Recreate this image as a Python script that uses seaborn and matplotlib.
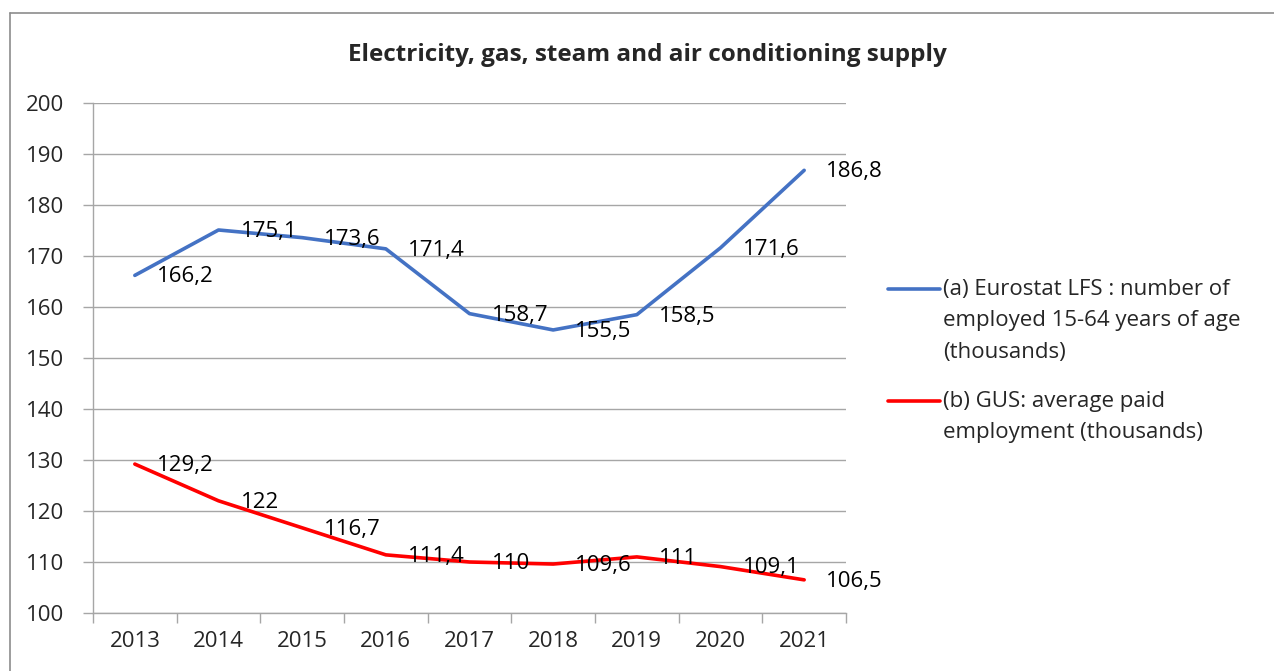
import matplotlib
matplotlib.use("Agg")
import matplotlib.pyplot as plt
from matplotlib.lines import Line2D
import seaborn as sns
import pandas as pd

years = ["2013", "2014", "2015", "2016", "2017", "2018", "2019", "2020", "2021"]
eurostat = [166.2, 175.1, 173.6, 171.4, 158.7, 155.5, 158.5, 171.6, 186.8]
gus = [129.2, 122, 116.7, 111.4, 110, 109.6, 111, 109.1, 106.5]
series_names = [
    "(a) Eurostat LFS : number of\nemployed 15-64 years of age\n(thousands)",
    "(b) GUS: average paid\nemployment (thousands)",
]
colors = ["#4472C4", "#FF0000"]
title = "Electricity, gas, steam and air conditioning supply"

df = pd.concat([
    pd.DataFrame({"year": years, "value": eurostat, "series": series_names[0]}),
    pd.DataFrame({"year": years, "value": gus, "series": series_names[1]}),
])

sns.set_theme(style="white")
plt.rcParams["font.family"] = ["Open Sans", "DejaVu Sans"]
FS = 16

fig = plt.figure(figsize=(12.74, 6.71), dpi=100)
ax = fig.add_axes([93 / 1274, 1 - 613 / 671, (846 - 93) / 1274, (613 - 103) / 671])

sns.lineplot(data=df, x="year", y="value", hue="series", sort=False,
             palette=dict(zip(series_names, colors)), linewidth=2.6,
             legend=False, ax=ax)

# data labels (comma as decimal separator)
for vals in (eurostat, gus):
    for i, v in enumerate(vals):
        ax.annotate(f"{v:g}".replace(".", ","), (i, v), xytext=(16, -1),
                    textcoords="offset points", va="center", ha="left",
                    fontsize=FS, color="black")

grid_c = "#A6A6A6"
ax.set_xlim(-0.5, len(years) - 0.5)
ax.set_ylim(100, 200)
ax.set_yticks(range(100, 201, 10))
ax.set_xticks(range(len(years)))
ax.set_xticklabels(years)
ax.set_xticks([i - 0.5 for i in range(len(years) + 1)], minor=True)
ax.tick_params(axis="x", which="major", length=0, pad=13, labelsize=FS)
ax.tick_params(axis="x", which="minor", length=7, width=1, color=grid_c,
               direction="out", bottom=True)
ax.tick_params(axis="y", length=7, width=1, color=grid_c, direction="out",
               pad=14, labelsize=FS, left=True)
ax.yaxis.grid(True, color=grid_c, linewidth=1)
ax.xaxis.grid(False)
for side in ["top", "right"]:
    ax.spines[side].set_visible(False)
for side in ["left", "bottom"]:
    ax.spines[side].set_color(grid_c)
    ax.spines[side].set_linewidth(1)
ax.set_xlabel("")
ax.set_ylabel("")

fig.text(647 / 1274, 1 - 55 / 671, title, ha="center", va="center",
         fontsize=17.5, fontweight="bold")

# legend drawn at right, handle aligned with first text line
leg_line_y = [289, 401]
leg_text_top = [279, 391]
for name, c, y, ty in zip(series_names, colors, leg_line_y, leg_text_top):
    fy = 1 - y / 671
    fig.add_artist(Line2D([888 / 1274, 940 / 1274], [fy, fy], color=c,
                          linewidth=2.6))
    fig.text(943 / 1274, 1 - ty / 671, name, ha="left", va="top", fontsize=FS,
             linespacing=1.65)

# chart border
bc = "#8C8C8C"
fig.add_artist(Line2D([10 / 1274, 10 / 1274], [0, 1 - 13 / 671], color=bc, linewidth=1.2))
fig.add_artist(Line2D([10 / 1274, 1], [1 - 13 / 671, 1 - 13 / 671], color=bc, linewidth=1.2))

fig.savefig("out.png", dpi=100)
